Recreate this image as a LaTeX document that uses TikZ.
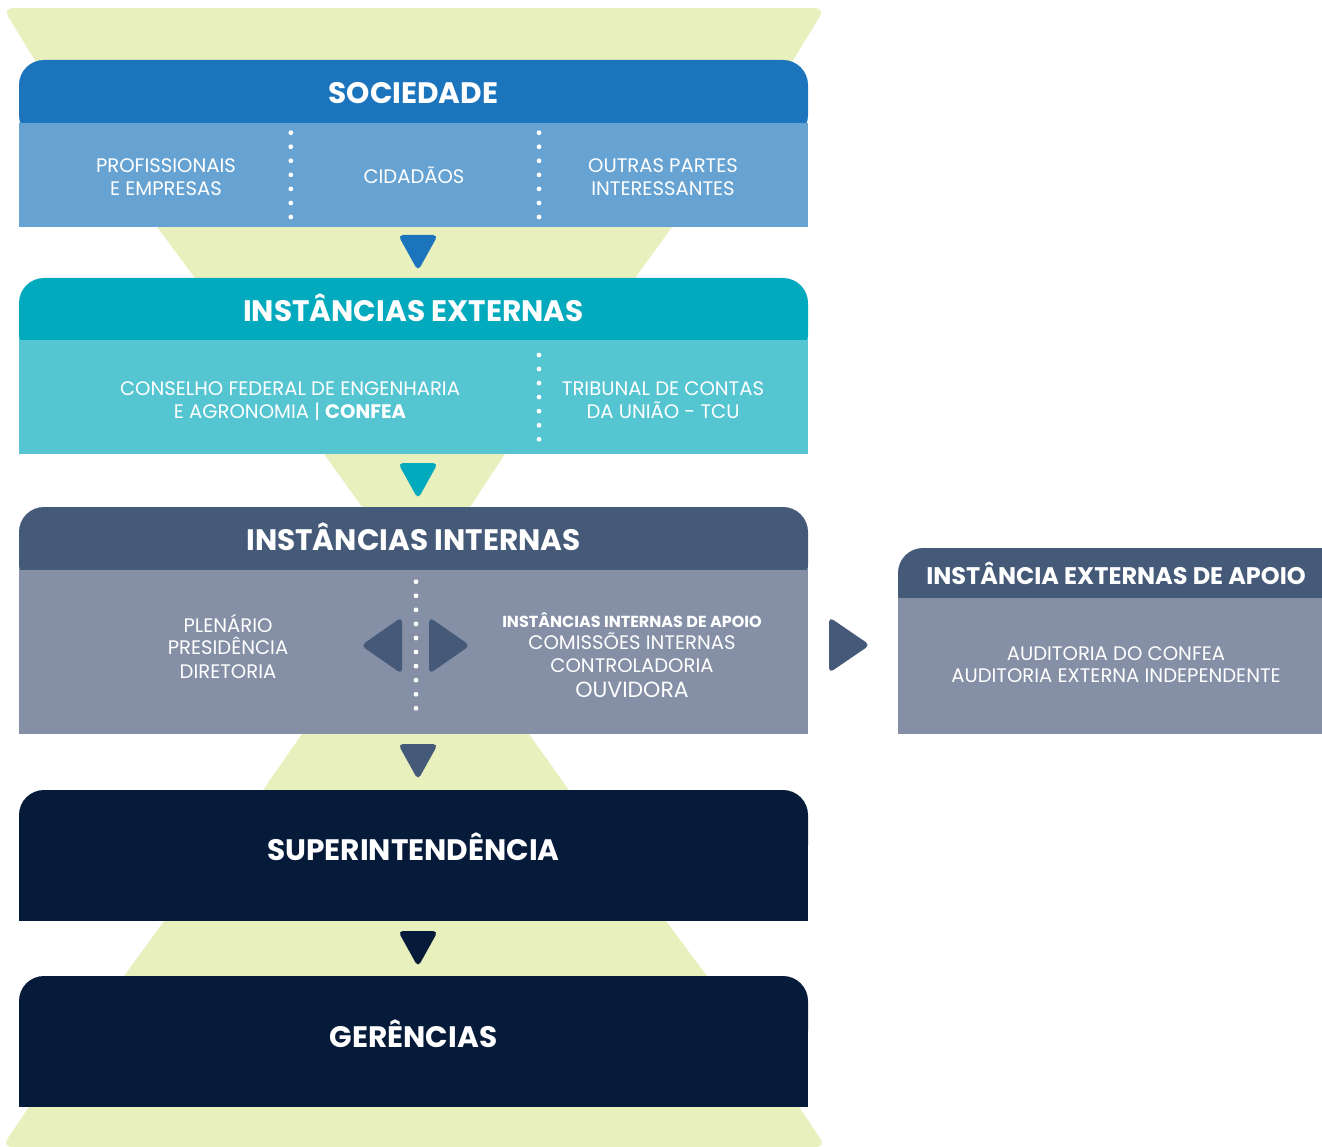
\documentclass[tikz,border=0pt]{standalone}
\usepackage{fontspec}
\setmainfont{Poppins}
\definecolor{lgreen}{HTML}{E8F0BE}
\definecolor{sochead}{HTML}{1C75BC}
\definecolor{socbody}{HTML}{67A3D2}
\definecolor{exthead}{HTML}{03A9BC}
\definecolor{extbody}{HTML}{55C5D1}
\definecolor{inthead}{HTML}{455A78}
\definecolor{intbody}{HTML}{8590A6}
\definecolor{navy}{HTML}{061A3A}
\begin{document}
\begin{tikzpicture}[x=1pt,y=-1pt,
  hdr/.style={text=white,font=\fontsize{29.6}{31}\selectfont\bfseries,anchor=base,inner sep=0pt},
  bodytxt/.style={text=white,font=\fontsize{19.6}{22}\selectfont,anchor=base,inner sep=0pt},
  smallhdr/.style={text=white,font=\fontsize{16}{18}\selectfont\bfseries,anchor=base,inner sep=0pt},
  sidehdr/.style={text=white,font=\fontsize{24}{26}\selectfont\bfseries,anchor=base,inner sep=0pt},
  sidetxt/.style={text=white,font=\fontsize{19.6}{22}\selectfont,anchor=base,inner sep=0pt},
  arrowtri/.style={rounded corners=5pt},
  dotline/.style={fill=white}
]
\useasboundingbox (0,0) rectangle (1322,1147);
\begin{scope}
\clip (0,0) rectangle (1322,1147);
% ---------- green funnel shapes ----------
\fill[lgreen,rounded corners=10pt] (3,8) -- (825,8) -- (775,90) -- (53,90) -- cycle;
\fill[lgreen] (153.3,222) -- (675.6,222) -- (631.4,283) -- (198.7,283) -- cycle;
\fill[lgreen] (320.4,449) -- (508.3,449) -- (466.7,512) -- (365.6,512) -- cycle;
\fill[lgreen] (305.5,729) -- (525.4,729) -- (572.6,795) -- (259.5,795) -- cycle;
\fill[lgreen] (167.6,916) -- (662.3,916) -- (710.7,981) -- (120.4,981) -- cycle;
\fill[lgreen,rounded corners=10pt] (47,1080) -- (781,1080) -- (826,1147) -- (2,1147) -- cycle;
% ---------- SOCIEDADE ----------
\fill[sochead,rounded corners=25pt] (19,60) rectangle (808,140);
\fill[socbody] (19,123) rectangle (808,227);
% ---------- INSTANCIAS EXTERNAS ----------
\fill[exthead,rounded corners=25pt] (19,278) rectangle (808,360);
\fill[extbody] (19,340) rectangle (808,454);
% ---------- INSTANCIAS INTERNAS ----------
\fill[inthead,rounded corners=25pt] (19,507) rectangle (808,590);
\fill[intbody] (19,570) rectangle (808,734);
% ---------- SUPERINTENDENCIA ----------
\fill[navy,rounded corners=25pt] (19,790) rectangle (808,870);
\fill[navy] (19,830) rectangle (808,921);
% ---------- GERENCIAS ----------
\fill[navy,rounded corners=25pt] (19,976) rectangle (808,1056);
\fill[navy] (19,1016) rectangle (808,1107);
% ---------- side box ----------
\fill[inthead,rounded corners=25pt] (898,548) rectangle (1346,620);
\fill[intbody] (898,598) rectangle (1346,734);
\end{scope}
% ---------- down arrows ----------
\fill[sochead,arrowtri] (398,235) -- (438,235) -- (418,271) -- cycle;
\fill[exthead,arrowtri] (398,463) -- (438,463) -- (418,499) -- cycle;
\fill[inthead,arrowtri] (398,744) -- (438,744) -- (418,780) -- cycle;
\fill[navy,arrowtri] (398,931) -- (438,931) -- (418,967) -- cycle;
% ---------- side arrows ----------
\fill[inthead,arrowtri] (402,617) -- (402,674) -- (361,645.5) -- cycle;
\fill[inthead,arrowtri] (429,617) -- (429,674) -- (470,645.5) -- cycle;
\fill[inthead,arrowtri] (829,617) -- (829,673) -- (870,645) -- cycle;
% ---------- dotted separators ----------
\foreach \i in {0,...,6} {
  \fill[dotline] (290.8,132.7+\i*14.05) circle[radius=2.4pt];
  \fill[dotline] (539,132.7+\i*14.05) circle[radius=2.4pt];
  \fill[dotline] (539,355+\i*14.05) circle[radius=2.4pt];
}
\foreach \i in {0,...,9} {
  \fill[dotline] (416,581.7+\i*14.07) circle[radius=2.4pt];
}
% ---------- texts ----------
\node[hdr] (soc) at (413.5,103.5) {SOCIEDADE};
\node[bodytxt] (prof1) at (166,173) {PROFISSIONAIS};
\node[bodytxt] (prof2) at (166,196) {E EMPRESAS};
\node[bodytxt] (cid) at (414,184) {CIDADÃOS};
\node[bodytxt] (out1) at (663,173) {OUTRAS PARTES};
\node[bodytxt] (out2) at (663,196) {INTERESSANTES};

\node[hdr] (ext) at (413.5,322) {INSTÂNCIAS EXTERNAS};
\node[bodytxt] (con1) at (290,395) {CONSELHO FEDERAL DE ENGENHARIA};
\node[bodytxt] (con2) at (290,418) {E AGRONOMIA | {\bfseries CONFEA}};
\node[bodytxt] (tcu1) at (663,395) {TRIBUNAL DE CONTAS};
\node[bodytxt] (tcu2) at (663,418) {DA UNIÃO - TCU};

\node[hdr] (int) at (413.5,550.5) {INSTÂNCIAS INTERNAS};
\node[bodytxt] (ple) at (228,632) {PLENÁRIO};
\node[bodytxt] (pre) at (228,654.5) {PRESIDÊNCIA};
\node[bodytxt] (dir) at (228,678) {DIRETORIA};
\node[smallhdr] (apo) at (632,627) {INSTÂNCIAS INTERNAS DE APOIO};
\node[bodytxt] (com) at (632,649) {COMISSÕES INTERNAS};
\node[bodytxt] (ctl) at (632,672.5) {CONTROLADORIA};
\node[bodytxt,font=\fontsize{22}{24}\selectfont] (ouv) at (632,697) {OUVIDORA};

\node[sidehdr] (side) at (1116,584.5) {INSTÂNCIA EXTERNAS DE APOIO};
\node[sidetxt] (aud1) at (1116,660) {AUDITORIA DO CONFEA};
\node[sidetxt] (aud2) at (1116,682) {AUDITORIA EXTERNA INDEPENDENTE};

\node[hdr] (sup) at (413.5,860.5) {SUPERINTENDÊNCIA};
\node[hdr] (ger) at (413.5,1047.5) {GERÊNCIAS};
\end{tikzpicture}
\end{document}
